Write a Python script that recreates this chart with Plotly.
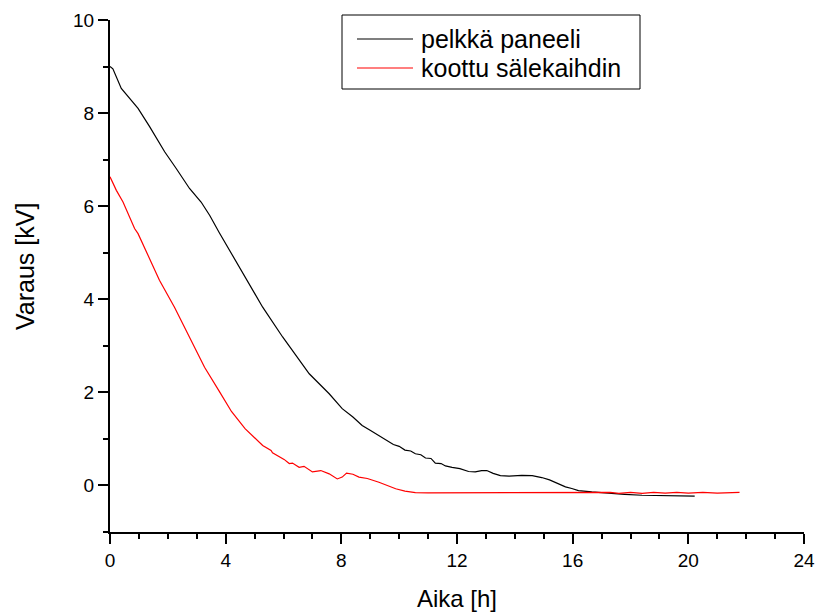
import plotly.graph_objects as go

# Black series: "pelkkä paneeli"
black_t = [0.0, 0.1, 0.39, 0.97, 1.37, 1.89, 2.29, 2.75, 3.15, 3.45, 3.78, 4.22, 4.59,
           5.28, 5.97, 6.45, 6.89, 7.58, 8.03, 8.4, 8.72, 9.01, 9.3, 9.55, 9.8, 10.0,
           10.2, 10.4, 10.56, 10.75, 10.91, 11.1, 11.25, 11.45, 11.6, 11.83, 12.1, 12.4,
           12.63, 12.85, 13.03, 13.25, 13.5, 13.8, 14.24, 14.6, 14.93, 15.2, 15.5, 15.75,
           15.97, 16.2, 16.66, 17.2, 17.8, 18.4, 19.3, 20.22]
black_v = [9.0, 8.95, 8.53, 8.10, 7.71, 7.17, 6.81, 6.38, 6.09, 5.80, 5.43, 4.96, 4.55,
           3.83, 3.19, 2.78, 2.40, 1.97, 1.65, 1.47, 1.29, 1.18, 1.07, 0.99, 0.88, 0.84,
           0.76, 0.74, 0.68, 0.66, 0.59, 0.58, 0.48, 0.47, 0.42, 0.39, 0.36, 0.30,
           0.29, 0.32, 0.32, 0.26, 0.21, 0.20, 0.215, 0.21, 0.17, 0.12, 0.035, -0.03,
           -0.065, -0.11, -0.14, -0.17, -0.19, -0.21, -0.215, -0.23]

# Red series: "koottu sälekaihdin"
red_t = [0.0, 0.22, 0.45, 0.85, 0.97, 1.31, 1.54, 1.71, 2.23, 2.81, 3.09, 3.27, 3.78,
         4.2, 4.67, 5.10, 5.28, 5.57, 5.62, 6.02, 6.2, 6.31, 6.54, 6.71, 7.0, 7.29,
         7.58, 7.86, 8.03, 8.18, 8.4, 8.61, 8.9, 9.3, 9.6, 9.88, 10.2, 10.56, 11.0,
         13.0, 15.0, 16.4, 16.8, 17.3, 17.6, 18.0, 18.4, 18.8, 19.2, 19.6, 20.0, 20.5,
         21.0, 21.4, 21.77]
red_v = [6.63, 6.34, 6.09, 5.52, 5.41, 4.96, 4.62, 4.41, 3.83, 3.12, 2.76, 2.54, 2.02,
         1.59, 1.22, 0.97, 0.86, 0.75, 0.70, 0.56, 0.47, 0.48, 0.39, 0.41, 0.29, 0.32,
         0.25, 0.14, 0.18, 0.265, 0.24, 0.18, 0.15, 0.07, 0.0, -0.07, -0.12, -0.155, -0.16,
         -0.16, -0.16, -0.155, -0.165, -0.15, -0.17, -0.15, -0.17, -0.15, -0.165, -0.15,
         -0.165, -0.15, -0.165, -0.15, -0.15]

series_names = ["pelkkä paneeli", "koottu sälekaihdin"]
series_colors = ["black", "#ff0000"]
x_title = "Aika [h]"
y_title = "Varaus [kV]"

FONT = "Liberation Sans, Arial, sans-serif"

fig = go.Figure()
fig.add_trace(go.Scatter(x=black_t, y=black_v, mode="lines", name=series_names[0],
                         line=dict(color=series_colors[0], width=1.2), showlegend=False))
fig.add_trace(go.Scatter(x=red_t, y=red_v, mode="lines", name=series_names[1],
                         line=dict(color=series_colors[1], width=1.2), showlegend=False))

axis_common = dict(showline=True, linecolor="black", linewidth=2, showgrid=False,
                   zeroline=False, ticks="outside", ticklen=10, tickwidth=2,
                   tickcolor="black", tickfont=dict(family=FONT, size=19, color="black"),
                   mirror=False, automargin=False)

fig.update_xaxes(range=[0, 24], tick0=0, dtick=4,
                 minor=dict(ticks="outside", ticklen=5, tickwidth=2, tickcolor="black",
                            dtick=1, tick0=0, showgrid=False),
                 **axis_common)
fig.update_yaxes(range=[-1, 10], tick0=0, dtick=2,
                 minor=dict(ticks="outside", ticklen=5, tickwidth=2, tickcolor="black",
                            dtick=1, tick0=0, showgrid=False),
                 **axis_common)

# Manual legend box (paper coordinates)
L, R, T, B = 110, 13, 20, 81
W, H = 817 - L - R, 613 - T - B
def px(xp):
    return (xp - L) / W
def py(yp):
    return (613 - B - yp) / H

shapes = [dict(type="rect", xref="paper", yref="paper",
               x0=px(342), x1=px(640), y0=py(89), y1=py(15),
               line=dict(color="black", width=1), fillcolor="white", layer="above")]
annotations = []
for i, (name, col) in enumerate(zip(series_names, series_colors)):
    yrow = 39 + 29 * i
    shapes.append(dict(type="line", xref="paper", yref="paper",
                       x0=px(357), x1=px(413), y0=py(yrow), y1=py(yrow),
                       line=dict(color=col, width=1.2), layer="above"))
    annotations.append(dict(text=name, xref="paper", yref="paper", x=px(419), y=py(yrow),
                            xanchor="left", yanchor="middle", showarrow=False,
                            font=dict(family=FONT, size=25, color="black")))

annotations += [
    dict(text=x_title, xref="paper", yref="paper", x=0.5, y=py(598),
         xanchor="center", yanchor="middle", showarrow=False,
         font=dict(family=FONT, size=24, color="black")),
    dict(text=y_title, xref="paper", yref="paper", x=px(25), y=py(267),
         xanchor="center", yanchor="middle", showarrow=False, textangle=-90,
         font=dict(family=FONT, size=25, color="black")),
]

fig.update_layout(
    width=817, height=613,
    margin=dict(l=L, r=R, t=T, b=B, autoexpand=False),
    paper_bgcolor="white", plot_bgcolor="white",
    font=dict(family=FONT, color="black"),
    showlegend=False,
    shapes=shapes,
    annotations=annotations,
)

fig.write_html("out.html")
